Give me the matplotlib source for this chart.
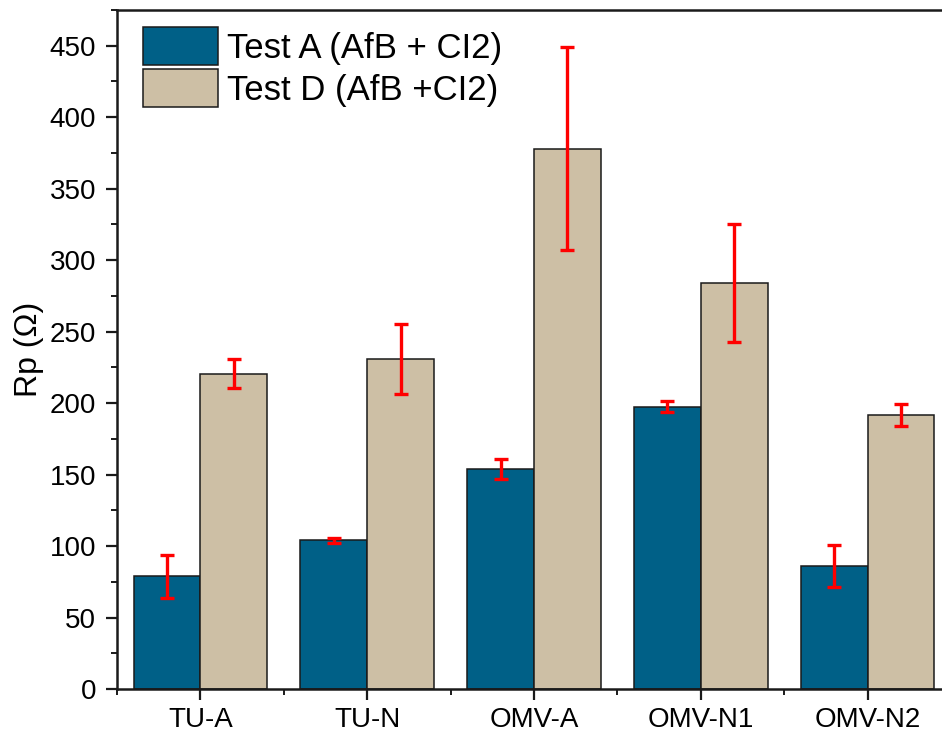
import numpy as np
import matplotlib
matplotlib.use("Agg")
import matplotlib.pyplot as plt
from matplotlib.ticker import MultipleLocator, FixedLocator

plt.rcParams['font.family'] = ['Liberation Sans', 'DejaVu Sans']

# Polarisation resistance per sample
categories = ["TU-A", "TU-N", "OMV-A", "OMV-N1", "OMV-N2"]
test_a = [79, 104, 154, 197.5, 86]
test_a_err = [15, 1.8, 7, 3.7, 14.7]
test_d = [220.5, 231, 378, 284, 192]
test_d_err = [10.2, 24.5, 71, 41, 7.7]
labels = ["Test A (AfB + CI2)", "Test D (AfB +CI2)"]
colors = ["#006087", "#CDBFA5"]

fig = plt.figure(figsize=(9.42, 7.37), dpi=100)
ax = fig.add_axes([0.1242, 0.0651, 0.8854, 0.9213])

x = np.arange(len(categories))
w = 0.4
err_kw = dict(ecolor="#FF0000", elinewidth=2.4, capsize=5, capthick=2.4)
ax.bar(x - w / 2, test_a, w, color=colors[0], edgecolor="#1a1a1a",
       linewidth=1.1, yerr=test_a_err, error_kw=err_kw, label=labels[0])
ax.bar(x + w / 2, test_d, w, color=colors[1], edgecolor="#1a1a1a",
       linewidth=1.1, yerr=test_d_err, error_kw=err_kw, label=labels[1])

ax.set_xlim(-0.5, len(categories) - 0.5)
ax.set_ylim(0, 475)
ax.set_xticks(x)
ax.set_xticklabels(categories)
ax.xaxis.set_minor_locator(FixedLocator(np.arange(-0.5, len(categories), 1.0)))
ax.yaxis.set_major_locator(MultipleLocator(50))
ax.yaxis.set_minor_locator(MultipleLocator(25))

for side in ax.spines.values():
    side.set_linewidth(1.8)
    side.set_color("#1a1a1a")

ax.tick_params(axis="both", which="major", direction="out", length=8,
               width=1.6, labelsize=20, pad=5, color="#1a1a1a")
ax.tick_params(axis="both", which="minor", direction="out", length=4,
               width=1.4, color="#1a1a1a")
ax.tick_params(axis="y", which="major", pad=7)
ax.set_ylabel("Rp (\u03A9)", fontsize=23, labelpad=4)

ax.legend(loc="upper left", bbox_to_anchor=(0.031, 0.975), frameon=False,
          fontsize=25, handlelength=2.16, handleheight=1.3, labelspacing=0.12,
          handletextpad=0.26, borderpad=0, borderaxespad=0)

fig.savefig("out.png", dpi=100)
